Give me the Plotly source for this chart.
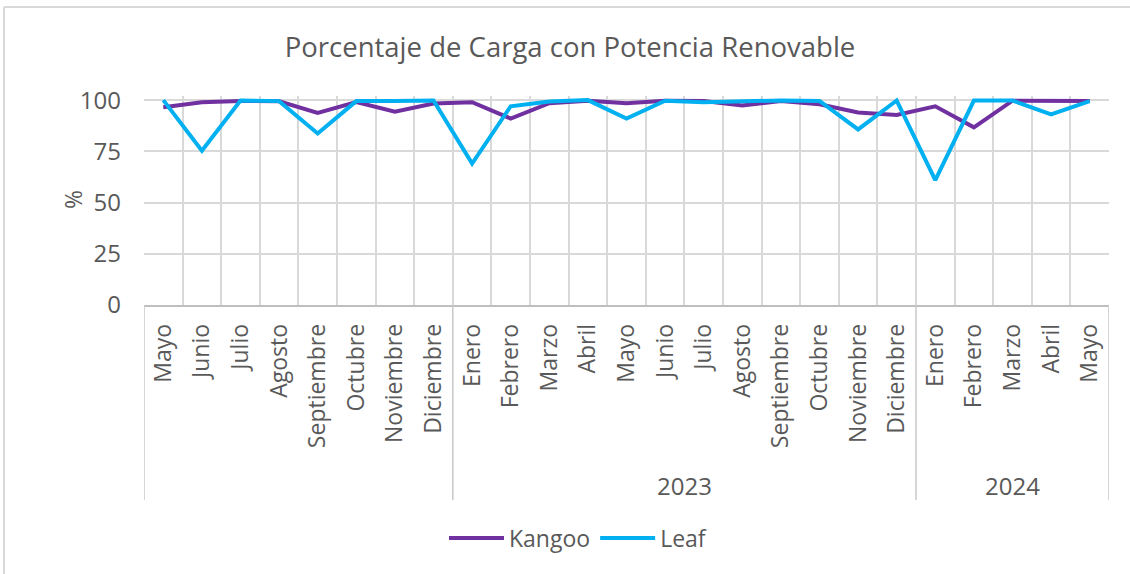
import plotly.graph_objects as go

months = ["Mayo", "Junio", "Julio", "Agosto", "Septiembre", "Octubre", "Noviembre", "Diciembre",
          "Enero", "Febrero", "Marzo", "Abril", "Mayo", "Junio", "Julio", "Agosto",
          "Septiembre", "Octubre", "Noviembre", "Diciembre",
          "Enero", "Febrero", "Marzo", "Abril", "Mayo"]
years = ["2022"] * 8 + ["2023"] * 12 + ["2024"] * 5
year_labels = {"2022": "", "2023": "2023", "2024": "2024"}

kangoo = [96.5, 99.0, 99.6, 99.4, 93.7, 99.0, 94.3, 98.3,
          99.0, 91.0, 98.5, 99.7, 98.5, 99.7, 99.5, 97.4,
          99.6, 98.0, 94.0, 92.7,
          97.0, 86.7, 99.7, 99.5, 99.5]
leaf = [100.0, 75.3, 99.8, 99.5, 83.7, 99.5, 99.6, 99.8,
        69.0, 97.0, 99.3, 100.0, 91.0, 99.7, 99.0, 99.5,
        99.8, 99.6, 85.7, 99.8,
        61.0, 99.8, 99.8, 93.0, 99.5]

y_ticks = [0, 25, 50, 75, 100]

TXT = "#595959"
GRID = "#D9D9D9"
FONT = "Open Sans"

x = list(range(len(months)))

fig = go.Figure()
fig.add_trace(go.Scatter(x=x, y=kangoo, mode="lines", name="Kangoo",
                         line=dict(color="#7030A0", width=4)))
fig.add_trace(go.Scatter(x=x, y=leaf, mode="lines", name="Leaf",
                         line=dict(color="#00B0F0", width=4)))

# group boundaries
groups = []
for i, yv in enumerate(years):
    if not groups or groups[-1][0] != yv:
        groups.append([yv, i, i])
    else:
        groups[-1][2] = i

W, H = 1130, 574
L, R, T, B = 144, 21, 96, 269
plot_h = H - T - B
plot_w = W - L - R
y_min, y_max = 0, 102


def py(pix):
    # pixel row -> paper y
    return (H - B - pix) / plot_h


def px(pix):
    return (pix - L) / plot_w


shapes = []
bounds = sorted(set([g[1] - 0.5 for g in groups] + [groups[-1][2] + 0.5]))
for b in bounds:
    shapes.append(dict(type="line", xref="x", yref="paper", x0=b, x1=b,
                       y0=py(500), y1=0, line=dict(color="#C8C8C8", width=1.5)))
# outer frame
shapes.append(dict(type="line", xref="paper", yref="paper",
                   x0=px(4), x1=px(4), y0=py(7), y1=py(H + 5),
                   line=dict(color="#D9D9D9", width=2)))
shapes.append(dict(type="line", xref="paper", yref="paper",
                   x0=px(4), x1=px(W + 5), y0=py(7), y1=py(7),
                   line=dict(color="#D9D9D9", width=2)))

annotations = []
for g in groups:
    annotations.append(dict(xref="x", yref="paper", x=(g[1] + g[2]) / 2, y=py(485),
                            yanchor="middle",
                            text=year_labels[g[0]], showarrow=False,
                            font=dict(family=FONT, size=24, color=TXT)))
annotations.append(dict(xref="paper", yref="paper", x=px(55), y=py(200),
                        text="%", textangle=-90, showarrow=False,
                        font=dict(family=FONT, size=23, color=TXT)))

fig.update_layout(
    width=W, height=H,
    margin=dict(l=L, r=R, t=T, b=B),
    paper_bgcolor="white", plot_bgcolor="white",
    title=dict(text="Porcentaje de Carga con Potencia Renovable",
               x=570 / W, xanchor="center", y=1 - 47 / H, yanchor="middle",
               font=dict(family=FONT, size=27.5, color=TXT)),
    showlegend=True,
    legend=dict(orientation="h", x=px(578), xanchor="center",
                y=py(538), yanchor="middle", itemwidth=55,
                font=dict(family=FONT, size=23, color=TXT)),
    shapes=shapes,
    annotations=annotations,
    xaxis=dict(range=[-0.5, len(months) - 0.5], tickvals=x, ticktext=months,
               tickangle=-90, showgrid=False, zeroline=False,
               showline=True, linecolor="#BFBFBF", linewidth=1.5,
               ticklabelstandoff=8,
               tickfont=dict(family=FONT, size=23, color=TXT),
               minor=dict(tickvals=[i - 0.5 for i in range(len(months) + 1)],
                          showgrid=True, gridcolor=GRID, gridwidth=1.5)),
    yaxis=dict(range=[y_min, y_max], tickvals=y_ticks, showgrid=True,
               gridcolor=GRID, gridwidth=1.5, zeroline=False, showline=False,
               ticklabelstandoff=22,
               tickfont=dict(family=FONT, size=24, color=TXT)),
)

fig.write_html("out.html", config={"displayModeBar": False},
               post_script="document.body.style.margin='0';document.body.style.overflow='hidden';")
